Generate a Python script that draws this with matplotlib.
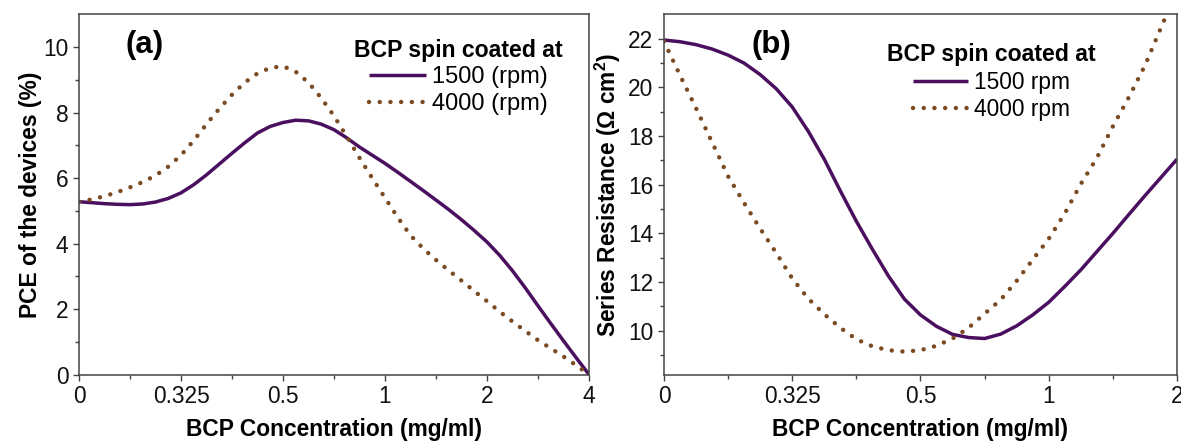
import matplotlib
matplotlib.use("Agg")
import matplotlib.pyplot as plt
from matplotlib.ticker import MultipleLocator, FixedLocator

plt.rcParams['font.family'] = ['Liberation Sans', 'DejaVu Sans']
plt.rcParams['mathtext.fontset'] = 'custom'
plt.rcParams['mathtext.rm'] = 'Liberation Sans'
plt.rcParams['mathtext.bf'] = 'Liberation Sans:bold'

# ---------------- data ----------------
conc_a = ['0', '0.325', '0.5', '1', '2', '4']
conc_b = ['0', '0.325', '0.5', '1', '2']

# positions along the categorical axis (index units)
xa = [0, 0.125, 0.25, 0.375, 0.5, 0.625, 0.75, 0.875, 1, 1.125, 1.25, 1.375,
      1.5, 1.625, 1.75, 1.875, 2, 2.125, 2.25, 2.375, 2.5, 2.625, 2.75,
      2.875, 3, 3.125, 3.25, 3.375, 3.5, 3.625, 3.75, 3.875, 4, 4.125, 4.25,
      4.375, 4.5, 4.625, 4.75, 4.875, 5]
pce_1500 = [5.28, 5.25, 5.22, 5.20, 5.19, 5.21, 5.27, 5.38, 5.55, 5.80, 6.10,
            6.43, 6.76, 7.08, 7.38, 7.58, 7.70, 7.77, 7.75, 7.65, 7.48, 7.23,
            6.95, 6.70, 6.45, 6.18, 5.90, 5.62, 5.33, 5.04, 4.73, 4.40, 4.05,
            3.64, 3.17, 2.65, 2.10, 1.56, 1.03, 0.51, 0.0]
pce_4000 = [5.28, 5.35, 5.45, 5.57, 5.72, 5.88, 6.08, 6.35, 6.70, 7.15, 7.65,
            8.12, 8.55, 8.92, 9.20, 9.37, 9.42, 9.25, 8.92, 8.45, 7.90, 7.27,
            6.62, 6.00, 5.40, 4.80, 4.25, 3.85, 3.50, 3.18, 2.87, 2.55, 2.24,
            1.92, 1.62, 1.33, 1.05, 0.80, 0.55, 0.28, 0.0]

xb = [0, 0.125, 0.25, 0.375, 0.5, 0.625, 0.75, 0.875, 1, 1.125, 1.25, 1.375,
      1.5, 1.625, 1.75, 1.875, 2, 2.125, 2.25, 2.375, 2.5, 2.625, 2.75,
      2.875, 3, 3.125, 3.25, 3.375, 3.5, 3.625, 3.75, 3.875, 4]
rs_1500 = [21.95, 21.88, 21.76, 21.58, 21.33, 21.00, 20.53, 19.95, 19.20,
           18.20, 17.05, 15.75, 14.50, 13.35, 12.25, 11.30, 10.65, 10.18,
           9.85, 9.72, 9.68, 9.86, 10.20, 10.65, 11.17, 11.82, 12.50, 13.25,
           14.00, 14.78, 15.55, 16.30, 17.05]
rs_4000 = [21.90, 20.50, 19.15, 17.75, 16.35, 15.25, 14.20, 13.20, 12.15,
           11.32, 10.68, 10.12, 9.65, 9.36, 9.20, 9.14, 9.20, 9.38, 9.68,
           10.12, 10.70, 11.27, 12.05, 12.92, 13.78, 14.82, 16.03, 17.10,
           18.40, 19.60, 20.90, 22.45, 24.00]

labels_a = ['1500 (rpm)', '4000 (rpm)']
labels_b = ['1500 rpm', '4000 rpm']
legend_title = 'BCP spin coated at'

# ---------------- style ----------------
PURPLE = '#4a0f5e'
BROWN = '#7a4a22'
SPINE = '#444444'
FS = 16.4

fig = plt.figure(figsize=(11.81, 4.43), dpi=100)
ax1 = fig.add_axes([0.0669, 0.1546, 0.4318, 0.8127])
ax2 = fig.add_axes([0.5622, 0.1546, 0.4344, 0.8127])

dot_style = dict(color=BROWN, lw=3.2, linestyle=(0, (0.01, 2.4)),
                 dash_capstyle='round')
line_style = dict(color=PURPLE, lw=2.5, solid_capstyle='butt')


def style_axes(ax):
    for s in ax.spines.values():
        s.set_color(SPINE)
        s.set_linewidth(1.1)
    ax.tick_params(which='both', direction='out', color=SPINE, width=1.0,
                   labelsize=FS, top=False, right=False, labelcolor='#111111')
    ax.tick_params(which='major', length=4.5, pad=3)
    ax.tick_params(which='minor', length=3)


def leg_kw(entry_size):
    return dict(frameon=False, fontsize=entry_size, title=legend_title,
                title_fontproperties={'weight': 'bold', 'size': 16.6},
                handlelength=2.4, handletextpad=0.25, labelspacing=0.2,
                borderpad=0, borderaxespad=0)


# ---- panel (a) ----
ax1.plot(xa, pce_1500, label=labels_a[0], **line_style)
ax1.plot(xa, pce_4000, label=labels_a[1], **dot_style)
ax1.set_xlim(0, len(conc_a) - 1)
ax1.set_ylim(0, 11)
ax1.set_xticks(range(len(conc_a)))
ax1.set_xticklabels(conc_a)
ax1.xaxis.set_minor_locator(MultipleLocator(0.5))
ax1.yaxis.set_major_locator(FixedLocator([0, 2, 4, 6, 8, 10]))
ax1.yaxis.set_minor_locator(FixedLocator([1, 3, 5, 7, 9]))
style_axes(ax1)
ax1.set_xlabel('BCP Concentration (mg/ml)', fontsize=FS, fontweight='bold',
               labelpad=7)
ax1.set_ylabel('PCE of the devices (%)', fontsize=FS, fontweight='bold',
               labelpad=1)
ax1.text(0.092, 0.915, '(a)', transform=ax1.transAxes, fontsize=22.4,
         fontweight='bold', va='center', ha='left')
ax1.legend(loc='upper right', bbox_to_anchor=(0.949, 0.933), **leg_kw(17))

# ---- panel (b) ----
ax2.plot(xb, rs_1500, label=labels_b[0], **line_style)
ax2.plot(xb, rs_4000, label=labels_b[1], **dot_style)
ax2.set_xlim(0, len(conc_b) - 1)
ax2.set_ylim(8.2, 23)
ax2.set_xticks(range(len(conc_b)))
ax2.set_xticklabels(conc_b)
ax2.xaxis.set_minor_locator(MultipleLocator(0.5))
ax2.yaxis.set_major_locator(FixedLocator([10, 12, 14, 16, 18, 20, 22]))
ax2.yaxis.set_minor_locator(FixedLocator([9, 11, 13, 15, 17, 19, 21]))
style_axes(ax2)
ax2.set_xlabel('BCP Concentration (mg/ml)', fontsize=FS, fontweight='bold',
               labelpad=7)
ax2.set_ylabel('Series Resistance ($\\mathbf{\\Omega}$ cm$^\\mathbf{2}$)',
               fontsize=FS, fontweight='bold', labelpad=4)
ax2.text(0.17, 0.915, '(b)', transform=ax2.transAxes, fontsize=22.4,
         fontweight='bold', va='center', ha='left')
ax2.legend(loc='upper right', bbox_to_anchor=(0.842, 0.920), **leg_kw(16.4))

fig.savefig('out.png', dpi=100)
